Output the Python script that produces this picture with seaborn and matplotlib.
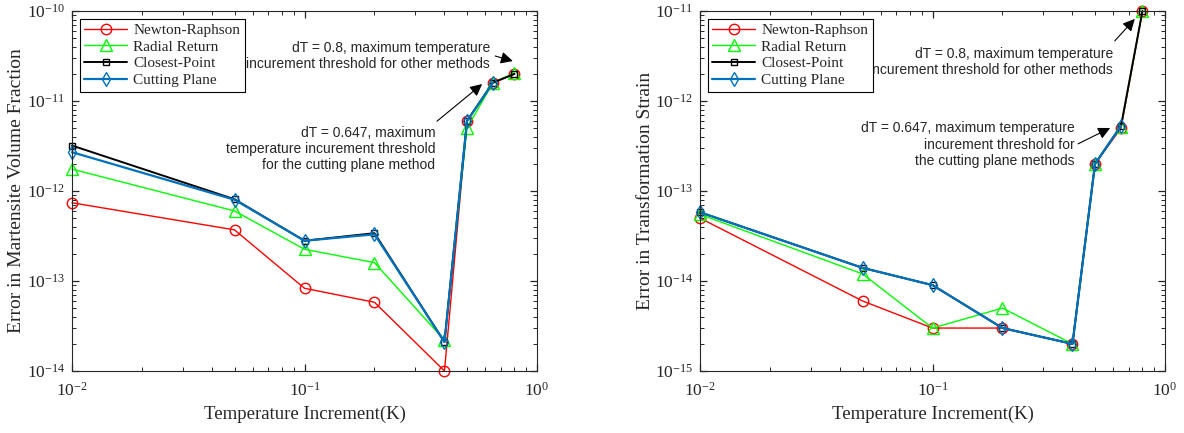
import matplotlib
matplotlib.use('Agg')
import matplotlib.pyplot as plt
import seaborn as sns

# Temperature increments (K)
dT = [0.01, 0.05, 0.1, 0.2, 0.4, 0.5, 0.647, 0.8]
dT_cp = [0.01, 0.05, 0.1, 0.2, 0.4, 0.5, 0.647]

methods = ['Newton-Raphson', 'Radial Return', 'Closest-Point', 'Cutting Plane']

# Error in martensite volume fraction
vf_newton = [7.4e-13, 3.7e-13, 8.3e-14, 5.8e-14, 1.0e-14, 6.0e-12, 1.6e-11, 2.0e-11]
vf_radial = [1.75e-12, 6.0e-13, 2.25e-13, 1.6e-13, 2.2e-14, 5.0e-12, 1.6e-11, 2.05e-11]
vf_closest = [3.2e-12, 8.1e-13, 2.8e-13, 3.4e-13, 2.1e-14, 6.0e-12, 1.6e-11, 2.0e-11]
vf_cutting = [2.7e-12, 8.0e-13, 2.8e-13, 3.3e-13, 2.1e-14, 6.0e-12, 1.6e-11]

# Error in transformation strain
ts_newton = [5.0e-14, 6.0e-15, 3.0e-15, 3.0e-15, 2.0e-15, 2.0e-13, 5.0e-13, 1.0e-11]
ts_radial = [5.5e-14, 1.2e-14, 3.0e-15, 5.0e-15, 2.0e-15, 2.0e-13, 5.2e-13, 1.0e-11]
ts_closest = [5.8e-14, 1.4e-14, 9.0e-15, 3.0e-15, 2.0e-15, 2.0e-13, 5.3e-13, 1.0e-11]
ts_cutting = [5.8e-14, 1.4e-14, 9.0e-15, 3.0e-15, 2.0e-15, 2.0e-13, 5.3e-13]

sns.set_style('white')
plt.rcParams.update({
    'font.family': ['Liberation Serif', 'DejaVu Serif'],
    'mathtext.fontset': 'stix',
    'xtick.bottom': True, 'xtick.top': True,
    'ytick.left': True, 'ytick.right': True,
    'xtick.direction': 'in', 'ytick.direction': 'in',
})

colors = ['#ff0000', '#00ff00', '#000000', '#0072BD']
markers = ['o', '^', 's', 'd']
msizes = [7.5, 8, 5, 7]
widths = [1.0, 1.0, 1.4, 1.6]
axcol = '#262626'


def draw_panel(ax, series, ylabel, ylim, notes):
    xs = [dT, dT, dT, dT_cp]
    for name, x, y, c, m, ms, lw in zip(methods, xs, series, colors, markers, msizes, widths):
        sns.lineplot(x=x, y=y, ax=ax, color=c, marker=m, markersize=ms,
                     markerfacecolor='none', markeredgecolor=c, markeredgewidth=1.0,
                     linewidth=lw, label=name, sort=False, clip_on=False)
    ax.set_xscale('log')
    ax.set_yscale('log')
    ax.set_xlim(0.01, 1)
    ax.set_ylim(*ylim)
    ax.set_xlabel('Temperature Increment(K)', fontsize=13.5, color=axcol, labelpad=4)
    ax.set_ylabel(ylabel, fontsize=14, color=axcol)
    ax.yaxis.set_label_coords(-0.1, 0.5)
    ax.tick_params(which='both', direction='in', top=True, right=True,
                   bottom=True, left=True, colors=axcol, labelsize=12.5)
    ax.tick_params(which='major', direction='in', length=5, width=0.9)
    ax.tick_params(which='minor', direction='in', length=3, width=0.7)
    ax.tick_params(axis='x', which='both', direction='in', pad=8)
    ax.tick_params(axis='y', which='both', direction='in', pad=5)
    for s in ax.spines.values():
        s.set_color(axcol)
        s.set_linewidth(0.8)
    leg = ax.legend(loc='upper left', frameon=True, fancybox=False, edgecolor='k',
                    framealpha=1, fontsize=11, handlelength=2.8, labelspacing=0.2,
                    borderpad=0.3, handletextpad=0.4, borderaxespad=0.5)
    leg.get_frame().set_linewidth(0.8)
    for text, tx, ty, start, end in notes:
        ax.text(tx, ty, text, transform=ax.transAxes, ha='right', va='center',
                family=['Liberation Sans', 'DejaVu Sans'], fontsize=10, linespacing=1.2)
        ax.annotate('', xy=end, xytext=start, xycoords='axes fraction',
                    textcoords='axes fraction',
                    arrowprops=dict(arrowstyle='-|>', color='k', lw=0.8,
                                    mutation_scale=18, shrinkA=0, shrinkB=0))


fig = plt.figure(figsize=(11.84, 4.33), dpi=100)
ax1 = fig.add_axes([72 / 1184, 1 - 371 / 433, 465 / 1184, 360 / 433])
ax2 = fig.add_axes([700 / 1184, 1 - 371 / 433, 465 / 1184, 360 / 433])

notes_left = [
    ('dT = 0.8, maximum temperature\nincurement threshold for other methods',
     0.899, 0.875, (0.910, 0.875), (0.948, 0.861)),
    ('dT = 0.647, maximum\ntemperature incurement threshold\nfor the cutting plane method',
     0.781, 0.617, (0.785, 0.694), (0.882, 0.797)),
]
notes_right = [
    ('dT = 0.8, maximum temperature\nincurement threshold for other methods',
     0.888, 0.858, (0.892, 0.917), (0.935, 0.978)),
    ('dT = 0.647, maximum temperature\nincurement threshold for\nthe cutting plane methods',
     0.806, 0.629, (0.813, 0.631), (0.882, 0.675)),
]

draw_panel(ax1, [vf_newton, vf_radial, vf_closest, vf_cutting],
           'Error in Martensite Volume Fraction', (1e-14, 1e-10), notes_left)
draw_panel(ax2, [ts_newton, ts_radial, ts_closest, ts_cutting],
           'Error in Transformation Strain', (1e-15, 1e-11), notes_right)

fig.savefig('out.png', dpi=100)
